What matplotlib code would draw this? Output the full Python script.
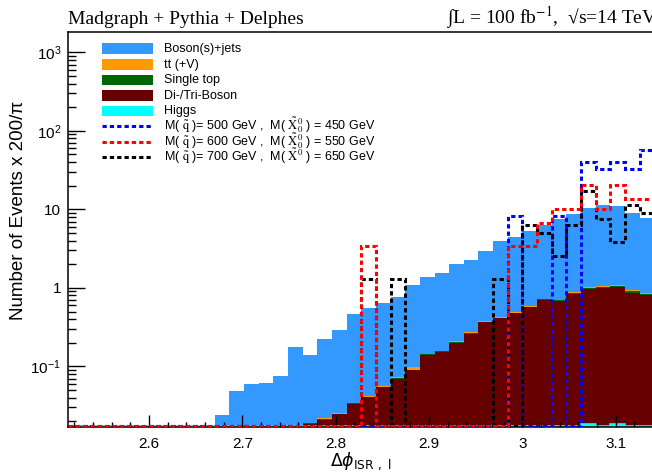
import numpy as np
import matplotlib
matplotlib.use('Agg')
import matplotlib.pyplot as plt
from matplotlib.patches import Rectangle
from matplotlib.lines import Line2D
from matplotlib.ticker import MultipleLocator, LogLocator, FuncFormatter, NullFormatter

plt.rcParams['font.family'] = ['Liberation Sans', 'DejaVu Sans']
plt.rcParams['mathtext.fontset'] = 'custom'
plt.rcParams['mathtext.rm'] = 'Liberation Sans'
plt.rcParams['mathtext.it'] = 'Liberation Sans:italic'
plt.rcParams['mathtext.bf'] = 'Liberation Sans:bold'

# ---------------- data (40 bins of width pi/200 from 0.8*pi to pi) ----------------
n_bins = 40
x_lo, x_hi = 0.8 * np.pi, np.pi

bosonjets = [0, 0, 0, 0, 0, 0, 0, 0, 0, 0,
             0.0241, 0.0487, 0.0604, 0.0622, 0.0764, 0.174, 0.121, 0.200, 0.268, 0.432,
             0.516, 0.588, 0.695, 1.00, 1.225, 1.39, 1.81, 2.00, 2.59, 3.58,
             3.89, 4.78, 5.68, 6.86, 7.89, 9.43, 10.34, 9.81, 8.17, 6.87]
ttbar = [0] * 16 + [0.0003, 0.0008, 0.0007, 0.0005, 0.0006, 0.001, 0.002, 0.006,
                    0.003, 0.003, 0.004, 0.005, 0.008, 0.007, 0.009, 0.012,
                    0.015, 0.012, 0.03, 0.035, 0.04, 0.045, 0.035, 0.03]
single_top = [0] * 16 + [0.0006, 0.0003, 0.0004, 0.0008, 0.0007, 0.001, 0.001, 0.001,
                         0.003, 0.003, 0.004, 0.005, 0.007, 0.008, 0.008, 0.01,
                         0.012, 0.012, 0.01, 0.02, 0.03, 0.02, 0.03, 0.02]
diboson = [0] * 16 + [0.0183, 0.021, 0.0245, 0.0333, 0.0405, 0.054, 0.070, 0.090,
                      0.139, 0.153, 0.200, 0.262, 0.365, 0.411, 0.476, 0.567,
                      0.70, 0.683, 0.839, 0.951, 0.99, 1.01, 0.87, 0.815]
higgs = [0] * 35 + [0.0185, 0, 0.0185, 0, 0]

sig500 = [0] * 30 + [8.27, 0, 0, 8.27, 0, 40.6, 32.5, 40.6, 32.5, 57.3]
sig600 = [0] * 20 + [3.43] + [0] * 9 + [3.40, 3.40, 6.67, 10.0, 10.0, 20.5, 10.0, 20.5, 13.5, 13.5]
sig700 = [0] * 20 + [1.29, 0, 1.29] + [0] * 6 + [1.29, 0, 6.35, 5.07, 2.56, 6.35, 16.9, 7.6, 3.85, 11.4, 8.94]

bkg_labels = ['Boson(s)+jets', 'tt (+V)', 'Single top', 'Di-/Tri-Boson', 'Higgs']
sig_labels = [r"M( $\tilde{\mathrm{q}}$ )= 500 GeV ,  M( $\tilde{\mathrm{X}}^{0}_{0}$ ) = 450 GeV",
              r"M( $\tilde{\mathrm{q}}$ )= 600 GeV ,  M( $\tilde{\mathrm{X}}^{0}_{0}$ ) = 550 GeV",
              r"M( $\tilde{\mathrm{q}}$ )= 700 GeV ,  M( $\tilde{\mathrm{X}}^{0}$ ) = 650 GeV"]

c_bj, c_tt, c_st, c_db, c_h = '#3399ff', '#ff9900', '#006600', '#660000', '#00ffff'
sig_colors = ['#0000ff', '#ff0000', '#000000']

# ---------------- figure ----------------
W, H = 652, 474
fig = plt.figure(figsize=(W / 100, H / 100), dpi=100)
ax = fig.add_axes([68 / W, 47 / H, (654.4 - 68) / W, (427 - 32.3) / H])
ax.set_yscale('log')
ymin, ymax = 0.0169, 1800
edges = np.linspace(x_lo, x_hi, n_bins + 1)
floor = 1e-4

cum = np.zeros(n_bins)
for vals, col in [(higgs, c_h), (diboson, c_db), (single_top, c_st), (ttbar, c_tt), (bosonjets, c_bj)]:
    top = cum + np.asarray(vals, dtype=float)
    ax.stairs(np.maximum(top, floor), edges, baseline=np.maximum(cum, floor),
              fill=True, color=col, lw=0, zorder=1)
    cum = top

# Higgs outline drawn at the bottom (ROOT style)
ax.stairs(np.maximum(np.asarray(higgs, float), ymin * 1.03), edges, baseline=None,
          color=c_h, lw=1.2, zorder=1.2)

sig_ls = (0, (1.4, 1.0))
for vals, col in [(sig500, sig_colors[0]), (sig700, sig_colors[2]), (sig600, sig_colors[1])]:
    ax.stairs(np.maximum(np.asarray(vals, float), ymin * 1.04), edges, baseline=None,
              color=col, lw=2.2, linestyle=sig_ls, zorder=3)

ax.set_xlim(x_lo, x_hi)
ax.set_ylim(ymin, ymax)

ax.xaxis.set_major_locator(MultipleLocator(0.1))
ax.xaxis.set_minor_locator(MultipleLocator(0.02))
ax.xaxis.set_major_formatter(FuncFormatter(lambda v, p: f"{round(v, 1):g}"))
ax.yaxis.set_major_locator(LogLocator(base=10, numticks=20))
ax.yaxis.set_minor_locator(LogLocator(base=10, subs=np.arange(2, 10), numticks=20))
ax.yaxis.set_minor_formatter(NullFormatter())


def yfmt(v, p):
    e = int(round(np.log10(v)))
    if e == 0:
        return '1'
    if e == 1:
        return '10'
    return r'$\mathrm{10^{%d}}$' % e


ax.yaxis.set_major_formatter(FuncFormatter(yfmt))
ax.tick_params(which='both', direction='in', top=False, right=False, color='black')
ax.tick_params(axis='x', which='major', length=8.5, width=1, labelsize=11, pad=7)
ax.tick_params(axis='x', which='minor', length=3.5, width=1)
ax.tick_params(axis='y', which='major', length=12, width=1, labelsize=11, pad=5)
ax.tick_params(axis='y', which='minor', length=6, width=1)
for s in ['left', 'bottom', 'top']:
    ax.spines[s].set_linewidth(1.1)
ax.spines['right'].set_visible(False)

ax.set_xlabel(r'$\Delta\phi_{\mathrm{ISR\ ,\ l}}$', fontsize=12.5, math_fontfamily='dejavusans', labelpad=0)
fig.text(19 / W, 1 - 210 / H, 'Number of Events x 200/π', rotation=90, fontsize=13.5,
         ha='center', va='center')

# header texts
fig.text(68 / W, 1 - 24 / H, 'Madgraph + Pythia + Delphes', family='Liberation Serif',
         fontsize=14, va='baseline')
fig.text(446 / W, 1 - 24 / H, '∫L = 100 fb$^{\\mathrm{-1}}$,  √s=14 TeV',
         family='Liberation Serif', fontsize=14, va='baseline', math_fontfamily='stix')

# legend (drawn manually, ROOT TLegend style)
rows = [48.7, 64.3, 79.8, 95.3, 110.8, 126.3, 141.8, 157.3]
bx0, bx1, bh = 102, 153, 10.5
bkg_cols = [c_bj, c_tt, c_st, c_db, c_h]
for i, (lab, col) in enumerate(zip(bkg_labels, bkg_cols)):
    y = rows[i]
    fig.add_artist(Rectangle((bx0 / W, 1 - (y + bh / 2) / H), (bx1 - bx0) / W, bh / H,
                             transform=fig.transFigure, color=col, lw=0))
    fig.text(164 / W, 1 - (y + 3.5) / H, lab, fontsize=9, va='baseline')
for j, (lab, col) in enumerate(zip(sig_labels, sig_colors)):
    y = rows[5 + j]
    fig.add_artist(Line2D([bx0 / W, bx1 / W], [1 - y / H, 1 - y / H], transform=fig.transFigure,
                          color=col, lw=2.2, linestyle=sig_ls))
    fig.text(164 / W, 1 - (y + 3.5) / H, lab, fontsize=9, va='baseline', math_fontfamily='stix')

fig.savefig('out.png', dpi=100)
